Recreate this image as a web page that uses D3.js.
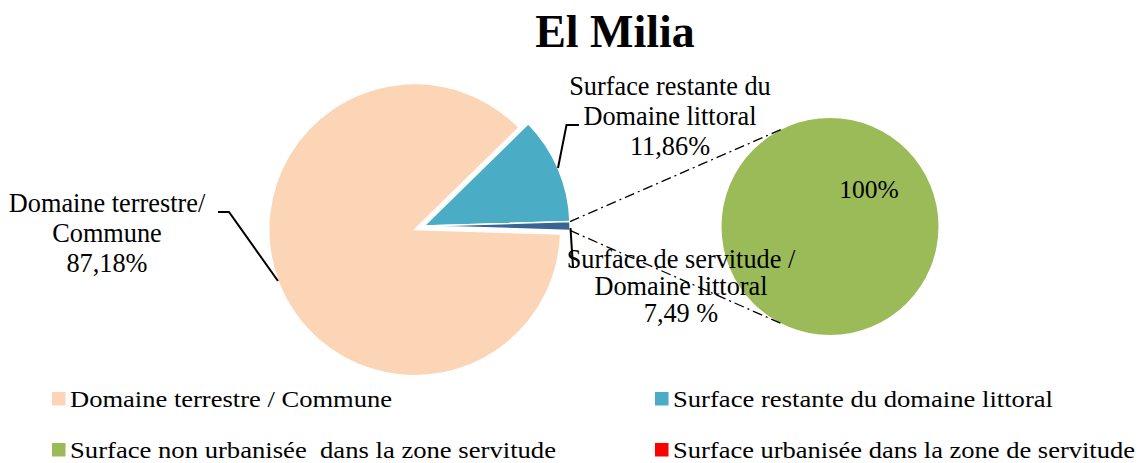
<!DOCTYPE html>
<html>
<head>
<meta charset="utf-8">
<script src="https://cdn.jsdelivr.net/npm/d3@7"></script>
<style>
  html, body { margin: 0; padding: 0; background: #fff; }
  svg { display: block; font-family: "Liberation Serif", "Times New Roman", serif; }
  text { white-space: pre; }
</style>
</head>
<body>
<svg id="chart" width="1139" height="463"></svg>
<script>
// ---- Data ----
const title = "El Milia";
// Main pie (order drawn clockwise starting with the blue slice)
const mainCategories = ["Surface restante du domaine littoral", "Surface de servitude / Domaine littoral", "Domaine terrestre / Commune"];
const mainValues = [11.86, 0.96, 87.18];
const mainLabels = [
  ["Surface restante du", "Domaine littoral", "11,86%"],
  ["Surface de servitude /", "Domaine littoral", "7,49 %"],
  ["Domaine terrestre/", "Commune", "87,18%"]
];
// Secondary pie (breakdown of the servitude zone)
const subCategories = ["Surface non urbanisée  dans la zone servitude", "Surface urbanisée dans la zone de servitude"];
const subValues = [100, 0];
const subLabels = ["100%", ""];
// Legend
const legendItems = ["Domaine terrestre / Commune", "Surface restante du domaine littoral", "Surface non urbanisée  dans la zone servitude", "Surface urbanisée dans la zone de servitude"];
const legendColors = ["#FBD5B5", "#4BACC6", "#9BBB59", "#FF0000"];

const mainColors = ["#4BACC6", "#3A6396", "#FBD5B5"];
const subColors = ["#9BBB59", "#FF0000"];

const svg = d3.select("#chart");

// Title
svg.append("text").attr("x", 615).attr("y", 47).attr("text-anchor", "middle")
  .attr("font-size", 46).attr("font-weight", "bold").text(title);

// ---- Main pie ----
const cx = 424, cy = 226, R = 146;
const total = d3.sum(mainValues);
const start = Math.PI / 2 - 2 * Math.PI * (mainValues[0] + mainValues[1] / 2) / total;
const pie = d3.pie().sort(null).startAngle(start).endAngle(start + 2 * Math.PI);
const arcs = pie(mainValues);
const arcGen = d3.arc().innerRadius(0).outerRadius(R);
const explode = [0, 0, 10];

const gMain = svg.append("g").attr("transform", `translate(${cx},${cy})`);
gMain.selectAll("path").data(arcs).join("path")
  .attr("d", arcGen)
  .attr("fill", (d, i) => mainColors[i])
  .attr("stroke", "#fff").attr("stroke-width", 1.5)
  .attr("transform", (d, i) => {
    const a = (d.startAngle + d.endAngle) / 2;
    return `translate(${Math.sin(a) * explode[i]},${-Math.cos(a) * explode[i]})`;
  });

// ---- Secondary pie ----
const scx = 830, scy = 226.5, sR = 108.5;
const subPie = d3.pie().sort(null);
const subArcs = subPie(subValues);
const subArc = d3.arc().innerRadius(0).outerRadius(sR);
const gSub = svg.append("g").attr("transform", `translate(${scx},${scy})`);
gSub.selectAll("path").data(subArcs).join("path")
  .attr("d", subArc)
  .attr("fill", (d, i) => subColors[i]);

gSub.append("text").attr("x", 39).attr("y", -28.5).attr("text-anchor", "middle")
  .attr("font-size", 25.5).text(subLabels[0]);

// ---- Connector lines (dash-dot) ----
const sv = arcs[1];
const p1 = [cx + R * Math.sin(sv.startAngle), cy - R * Math.cos(sv.startAngle)];
const p2 = [cx + R * Math.sin(sv.endAngle), cy - R * Math.cos(sv.endAngle)];
const tx = 783;
const tdy = Math.sqrt(sR * sR - (tx - scx) * (tx - scx));
const conn = svg.append("g").attr("stroke", "#000").attr("stroke-width", 1.3)
  .attr("stroke-dasharray", "10,4,2,4").attr("fill", "none");
conn.append("line").attr("x1", p1[0]).attr("y1", p1[1]).attr("x2", tx).attr("y2", scy - tdy);
conn.append("line").attr("x1", p2[0]).attr("y1", p2[1]).attr("x2", tx).attr("y2", scy + tdy);

// ---- Leader lines ----
const leaders = [
  [[558, 168], [566.5, 125], [579, 125]],
  [[570.5, 228], [573, 267]],
  [[278, 281], [229, 212], [218, 212]]
];
const lineGen = d3.line();
svg.append("g").selectAll("path").data(leaders).join("path")
  .attr("d", lineGen).attr("fill", "none").attr("stroke", "#000").attr("stroke-width", 2);

// ---- Data labels ----
const labelPos = [
  { x: 670, y: 95, dy: 30 },
  { x: 681, y: 268, dy: 27 },
  { x: 107, y: 212, dy: 30 }
];
mainLabels.forEach((lines, i) => {
  const t = svg.append("text").attr("text-anchor", "middle").attr("font-size", 26.3);
  lines.forEach((s, j) => {
    t.append("tspan").attr("x", labelPos[i].x).attr("y", labelPos[i].y + j * labelPos[i].dy).text(s);
  });
});

// ---- Legend ----
const legPos = [[52, 392], [655, 392], [52, 443], [655, 443]];
const legWidths = [322, 380, 486, 462];
const leg = svg.append("g");
legendItems.forEach((name, i) => {
  const [x, y] = legPos[i];
  leg.append("rect").attr("x", x).attr("y", y).attr("width", 13.5).attr("height", 13.5).attr("fill", legendColors[i]);
  leg.append("text").attr("x", x + 18).attr("y", y + 14.5).attr("font-size", 23)
    .attr("textLength", legWidths[i]).attr("lengthAdjust", "spacingAndGlyphs").text(name);
});
</script>
</body>
</html>
